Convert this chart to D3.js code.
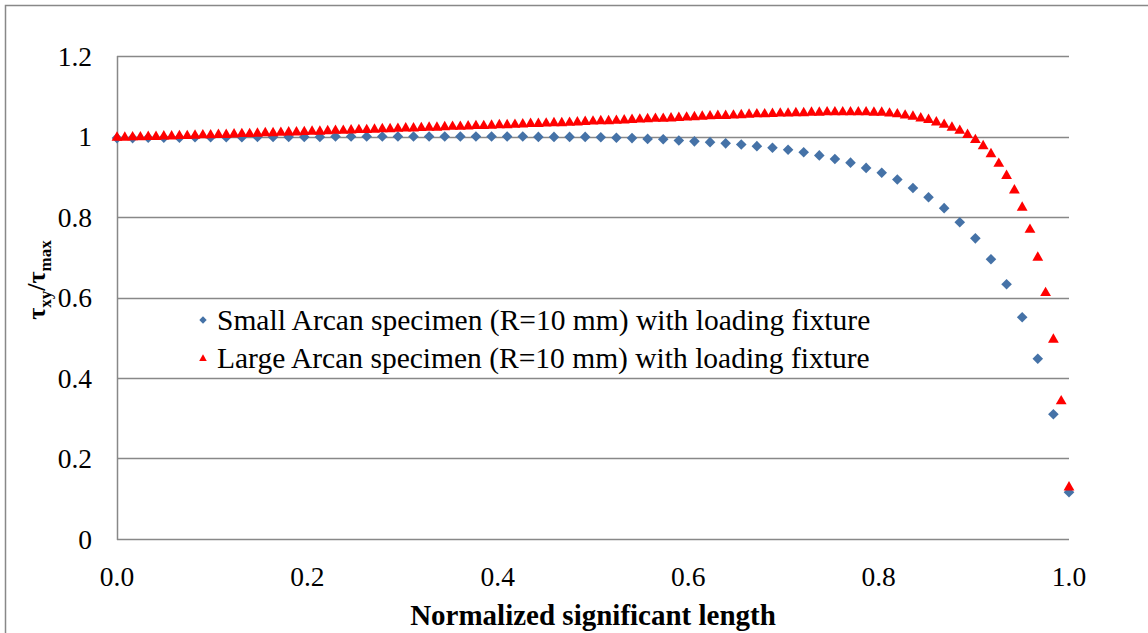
<!DOCTYPE html>
<html>
<head>
<meta charset="utf-8">
<script src="https://cdn.jsdelivr.net/npm/d3@7"></script>
<style>
body { margin: 0; background: #ffffff; }
svg { display: block; }
text { font-family: "Liberation Serif", "Times New Roman", serif; fill: #000; }
</style>
</head>
<body>
<svg id="chart"></svg>
<script>
var ww = 1148;
var hh = 633;
const SMALL_COLOR = '#4572A7';
const LARGE_COLOR = '#FF0000';
const GRID_COLOR = '#888888';

// tick labels
var y_ticks = [0, 0.2, 0.4, 0.6, 0.8, 1.0, 1.2];
var y_tick_labels = ['0', '0.2', '0.4', '0.6', '0.8', '1', '1.2'];
var x_ticks = [0, 0.2, 0.4, 0.6, 0.8, 1.0];
var x_tick_labels = ['0.0', '0.2', '0.4', '0.6', '0.8', '1.0'];

var series_names = [
    'Small Arcan specimen (R=10 mm) with loading fixture',
    'Large Arcan specimen (R=10 mm) with loading fixture'
];

// tau_xy / tau_max, sampled evenly along the normalized length (62 samples)
var small_values = [
    0.996, 0.996, 0.997, 0.997, 0.997, 0.998, 0.998, 0.998, 0.998, 0.999,
    0.999, 0.999, 0.999, 0.999, 1.000, 1.000, 1.000, 1.000, 1.000, 1.000,
    1.000, 1.000, 1.000, 1.000, 1.000, 1.000, 1.000, 0.999, 0.999, 0.999,
    0.999, 0.998, 0.997, 0.996, 0.994, 0.993, 0.990, 0.988, 0.986, 0.983,
    0.980, 0.976, 0.972, 0.967, 0.961, 0.953, 0.944, 0.935, 0.922, 0.910,
    0.893, 0.872, 0.849, 0.822, 0.787, 0.747, 0.695, 0.633, 0.551, 0.448,
    0.310, 0.116
];

// same quantity for the large specimen (123 samples)
var large_values = [
    1.000, 1.000, 1.001, 1.001, 1.002, 1.002, 1.003, 1.003, 1.004, 1.004, 1.005,
    1.006, 1.006, 1.007, 1.007, 1.008, 1.009, 1.009, 1.010, 1.011, 1.011,
    1.012, 1.013, 1.013, 1.014, 1.015, 1.015, 1.016, 1.017, 1.017, 1.018,
    1.019, 1.019, 1.020, 1.021, 1.021, 1.022, 1.023, 1.023, 1.024, 1.025,
    1.025, 1.026, 1.027, 1.027, 1.028, 1.029, 1.029, 1.030, 1.031, 1.031,
    1.032, 1.033, 1.034, 1.034, 1.035, 1.036, 1.036, 1.037, 1.038, 1.039,
    1.040, 1.041, 1.041, 1.042, 1.043, 1.044, 1.045, 1.046, 1.047, 1.047,
    1.048, 1.049, 1.050, 1.051, 1.052, 1.053, 1.054, 1.054, 1.055, 1.056,
    1.057, 1.058, 1.058, 1.059, 1.060, 1.060, 1.061, 1.061, 1.062, 1.062,
    1.063, 1.063, 1.063, 1.063, 1.063, 1.063, 1.062, 1.062,
    1.060, 1.058, 1.055, 1.052, 1.048, 1.044, 1.038, 1.032, 1.025, 1.017,
    1.007, 0.994, 0.979, 0.959, 0.935, 0.905, 0.869, 0.826, 0.771, 0.702,
    0.614, 0.498, 0.345, 0.131
];

var svg = d3.select("#chart")
    .attr("width", ww)
    .attr("height", hh);

// plot area edges
var plot_left = 117, plot_right = 1069, plot_top = 56, plot_bottom = 539;

var x = d3.scaleLinear().domain([0, 1]).range([plot_left, plot_right]);
var y = d3.scaleLinear().domain([0, 1.2]).range([plot_bottom, plot_top]);

function to_points(values){
    // spread the samples evenly from 0 to 1 on the x axis
    var n = values.length;
    return values.map(function(v, i){
        return {x: i / (n - 1), y: v};
    });
}

var diamond = "M0,-5.3L5.3,0L0,5.3L-5.3,0Z";
var triangle = "M0,-5.2L5.4,4.2L-5.4,4.2Z";

// outer chart border (runs off the right and bottom of the picture)
svg.append("rect")
    .attr("x", 5.5)
    .attr("y", 5.5)
    .attr("width", 1300)
    .attr("height", 800)
    .attr("fill", "none")
    .attr("stroke", GRID_COLOR)
    .attr("stroke-width", 1.5);

// horizontal gridlines
svg.append("g")
    .attr("class", "grid")
    .selectAll("line")
    .data(y_ticks)
    .enter().append("line")
    .attr("x1", plot_left)
    .attr("x2", plot_right)
    .attr("y1", function(d){ return Math.round(y(d)) + 0.5; })
    .attr("y2", function(d){ return Math.round(y(d)) + 0.5; })
    .attr("stroke", GRID_COLOR)
    .attr("stroke-width", 1.5);

// left axis line
svg.append("line")
    .attr("x1", plot_left + 0.5)
    .attr("x2", plot_left + 0.5)
    .attr("y1", plot_top)
    .attr("y2", plot_bottom + 1)
    .attr("stroke", GRID_COLOR)
    .attr("stroke-width", 1.5);

// y tick labels
svg.append("g")
    .selectAll("text")
    .data(y_ticks)
    .enter().append("text")
    .attr("x", 92)
    .attr("y", function(d){ return y(d); })
    .attr("dy", "0.35em")
    .attr("text-anchor", "end")
    .style("font-size", "27.5px")
    .text(function(d, i){ return y_tick_labels[i]; });

// x tick labels
svg.append("g")
    .selectAll("text")
    .data(x_ticks)
    .enter().append("text")
    .attr("x", function(d){ return x(d); })
    .attr("y", 586)
    .attr("text-anchor", "middle")
    .style("font-size", "27.5px")
    .text(function(d, i){ return x_tick_labels[i]; });

// x axis title
svg.append("text")
    .attr("x", 593)
    .attr("y", 625)
    .attr("text-anchor", "middle")
    .style("font-size", "29px")
    .style("font-weight", "bold")
    .text("Normalized significant length");

// y axis title with subscripts
var ytitle = svg.append("text")
    .attr("transform", "translate(45,280) rotate(-90)")
    .attr("text-anchor", "middle")
    .style("font-size", "26px")
    .style("font-weight", "bold");
ytitle.append("tspan").text("\u03c4");
ytitle.append("tspan").attr("dy", 6).style("font-size", "17px").text("xy");
ytitle.append("tspan").attr("dy", -6).text("/\u03c4");
ytitle.append("tspan").attr("dy", 6).style("font-size", "17px").text("max");

// small specimen markers first, large ones drawn on top
svg.append("g")
    .attr("class", "small")
    .selectAll("path")
    .data(to_points(small_values))
    .enter().append("path")
    .attr("d", diamond)
    .attr("transform", function(d){ return "translate(" + x(d.x) + "," + y(d.y) + ")"; })
    .attr("fill", SMALL_COLOR);

svg.append("g")
    .attr("class", "large")
    .selectAll("path")
    .data(to_points(large_values))
    .enter().append("path")
    .attr("d", triangle)
    .attr("transform", function(d){ return "translate(" + x(d.x) + "," + y(d.y) + ")"; })
    .attr("fill", LARGE_COLOR);

// legend inside the plot
var legend_marks = [diamond, triangle];
var legend_colors = [SMALL_COLOR, LARGE_COLOR];
var legend = svg.append("g").attr("class", "legend");
for (var k = 0; k < series_names.length; k++){
    var ly = 320 + k * 38;
    legend.append("path")
        .attr("d", legend_marks[k])
        .attr("transform", "translate(203," + ly + ") scale(0.7)")
        .attr("fill", legend_colors[k]);
    legend.append("text")
        .attr("x", 217)
        .attr("y", ly)
        .attr("dy", "0.35em")
        .style("font-size", "29.5px")
        .text(series_names[k]);
}
</script>
</body>
</html>
